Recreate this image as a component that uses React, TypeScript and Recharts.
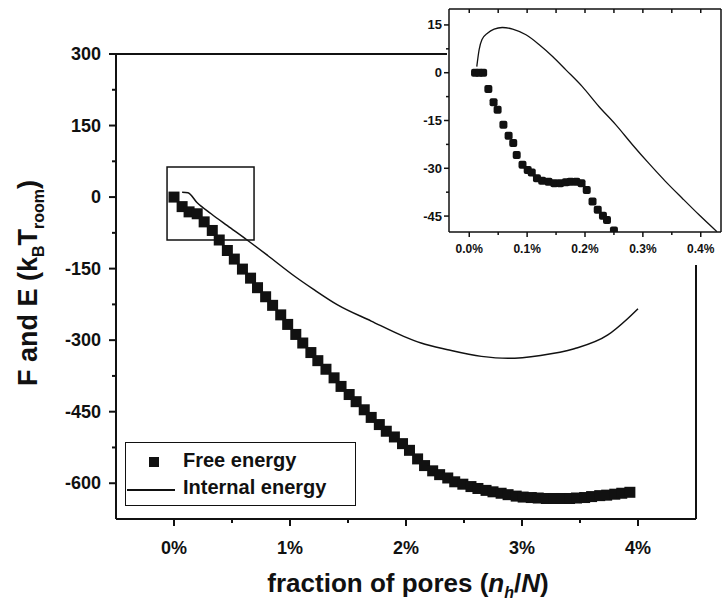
import React from 'react';
import { ComposedChart, Line, Scatter, XAxis, YAxis, ReferenceArea } from 'recharts';

// main panel: free energy (squares) and internal energy (line), x in % of pores
const freeX = [0, 0.07, 0.13, 0.2, 0.26, 0.33, 0.39, 0.46, 0.52, 0.59, 0.66, 0.72, 0.79, 0.85, 0.92, 0.98, 1.05, 1.11, 1.18, 1.24, 1.31, 1.38, 1.44, 1.51, 1.57, 1.64, 1.7, 1.77, 1.83, 1.9, 1.97, 2.03, 2.1, 2.16, 2.23, 2.29, 2.36, 2.42, 2.49, 2.56, 2.62, 2.69, 2.75, 2.82, 2.88, 2.95, 3.01, 3.08, 3.14, 3.21, 3.28, 3.34, 3.41, 3.47, 3.54, 3.6, 3.67, 3.73, 3.8, 3.86, 3.93];
const freeE = [0, -20, -31, -35, -52, -70, -90, -112, -130, -151, -170, -190, -209, -227, -247, -267, -288, -306, -326, -343, -361, -379, -397, -414, -429, -446, -462, -477, -491, -503, -517, -531, -549, -563, -574, -582, -589, -597, -602, -607, -611, -615, -618, -621, -624, -627, -629, -630, -631, -632, -632, -632, -632, -631, -630, -628, -626, -625, -623, -621, -619];
const internalX = [0.07, 0.12, 0.2, 0.32, 0.46, 0.63, 0.81, 1.04, 1.2, 1.41, 1.7, 1.98, 2.13, 2.36, 2.65, 2.88, 3.16, 3.45, 3.74, 3.91, 4.0];
const internalE = [10, 9, -12, -35, -60, -90, -123, -166, -193, -226, -260, -292, -306, -320, -334, -338, -332, -318, -289, -255, -234];

// inset: zoom on the start of both curves
const insetFreeX = [0.01, 0.017, 0.024, 0.033, 0.042, 0.049, 0.059, 0.068, 0.076, 0.082, 0.092, 0.101, 0.108, 0.117, 0.126, 0.137, 0.147, 0.157, 0.167, 0.175, 0.185, 0.194, 0.203, 0.213, 0.222, 0.231, 0.238, 0.25];
const insetFreeE = [0, 0, 0, -5.1, -9.3, -11.6, -16.3, -19.8, -22.1, -25.8, -28.9, -30.5, -31.3, -33.1, -33.9, -34.2, -34.7, -34.7, -34.4, -34.2, -34.2, -34.7, -36.8, -40.4, -43, -44.9, -46.2, -49.5];
const insetIntX = [0.013, 0.017, 0.022, 0.032, 0.043, 0.057, 0.075, 0.098, 0.121, 0.144, 0.167, 0.195, 0.224, 0.253, 0.282, 0.31, 0.339, 0.368, 0.397, 0.428];
const insetIntE = [1.9, 7.2, 10.4, 12.5, 13.7, 14.2, 13.7, 11.9, 8.8, 5.1, 0.9, -4.3, -10.6, -16.3, -22.6, -28.4, -34.1, -39.4, -44.6, -49.9];

const mainXTicks = [0, 0.5, 1, 1.5, 2, 2.5, 3, 3.5, 4];
const mainYTicks = [-600, -525, -450, -375, -300, -225, -150, -75, 0, 75, 150, 225, 300];
const insetXTicks = [0, 0.05, 0.1, 0.15, 0.2, 0.25, 0.3, 0.35, 0.4];
const insetYTicks = [-45, -37.5, -30, -22.5, -15, -7.5, 0, 7.5, 15];
const zoomBoxX = [-0.06, 0.69];
const zoomBoxY = [-90, 63];

const FONT = '"Liberation Sans", Arial, Helvetica, sans-serif';
const INK = '#111';

const near = (v: number, step: number) => Math.abs(v / step - Math.round(v / step)) < 1e-6;

const freeData = freeX.map((x, i) => ({ x, y: freeE[i] }));
const internalData = internalX.map((x, i) => ({ x, y: internalE[i] }));
const insetFreeData = insetFreeX.map((x, i) => ({ x, y: insetFreeE[i] }));
const insetIntData = insetIntX.map((x, i) => ({ x, y: insetIntE[i] }));

const mainBottomTick = (p: any) => {
  const v = p.payload.value;
  const major = near(v, 1);
  return (
    <g>
      <line x1={p.x} x2={p.x} y1={p.y} y2={p.y + (major ? 7 : 4)} stroke={INK} strokeWidth={2} />
      {major && (
        <text x={p.x} y={p.y + 35} textAnchor="middle" fontFamily={FONT} fontWeight="bold" fontSize={18} fill={INK}>
          {v}%
        </text>
      )}
    </g>
  );
};

const mainLeftTick = (p: any) => {
  const v = p.payload.value;
  const major = near(v, 150);
  return (
    <g>
      <line x1={p.x} x2={p.x - (major ? 7 : 4)} y1={p.y} y2={p.y} stroke={INK} strokeWidth={2} />
      {major && (
        <text x={p.x - 15} y={p.y + 6} textAnchor="end" fontFamily={FONT} fontWeight="bold" fontSize={18} fill={INK}>
          {v}
        </text>
      )}
    </g>
  );
};

const mainTopTick = (p: any) => (
  <line x1={p.x} x2={p.x} y1={p.y} y2={p.y + 6} stroke={INK} strokeWidth={2} />
);

const mainRightTick = (p: any) => (
  <line x1={p.x} x2={p.x - (near(p.payload.value, 150) ? 7 : 5)} y1={p.y} y2={p.y} stroke={INK} strokeWidth={2} />
);

const insetBottomTick = (p: any) => {
  const v = p.payload.value;
  const major = near(v, 0.1);
  return (
    <g>
      <line x1={p.x} x2={p.x} y1={p.y} y2={p.y + (major ? 5 : 3)} stroke={INK} strokeWidth={1.5} />
      {major && (
        <text x={p.x} y={p.y + 21} textAnchor="middle" fontFamily={FONT} fontWeight="bold" fontSize={12} fill={INK}>
          {v.toFixed(1)}%
        </text>
      )}
    </g>
  );
};

const insetLeftTick = (p: any) => {
  const v = p.payload.value;
  const major = near(v, 15);
  return (
    <g>
      <line x1={p.x} x2={p.x - (major ? 5 : 3)} y1={p.y} y2={p.y} stroke={INK} strokeWidth={1.5} />
      {major && (
        <text x={p.x - 7} y={p.y + 4.5} textAnchor="end" fontFamily={FONT} fontWeight="bold" fontSize={13} fill={INK}>
          {v}
        </text>
      )}
    </g>
  );
};

const insetTopTick = (p: any) => (
  <line x1={p.x} x2={p.x} y1={p.y} y2={p.y + 4} stroke={INK} strokeWidth={1.5} />
);

const bigSquare = (p: any) => <rect x={p.cx - 5.5} y={p.cy - 5.5} width={11} height={11} fill={INK} />;
const smallSquare = (p: any) => <rect x={p.cx - 4} y={p.cy - 4} width={8} height={8} rx={2} fill={INK} />;

const axisStyle = { stroke: INK, strokeWidth: 2 };
const insetAxisStyle = { stroke: INK, strokeWidth: 1.5 };

// axes get a 1px box (a 0px one is not drawn); ticks sit on the plot edge
const MainChart = () => (
  <ComposedChart width={724} height={605} margin={{ top: 53, right: 27, bottom: 85, left: 115 }}>
    <XAxis xAxisId="b" type="number" dataKey="x" domain={[-0.5, 4.5]} ticks={mainXTicks} interval={0}
      height={1} tickSize={0} tickMargin={0} axisLine={axisStyle} tickLine={false} tick={mainBottomTick} />
    <XAxis xAxisId="t" orientation="top" type="number" dataKey="x" domain={[-0.5, 4.5]} ticks={mainXTicks} interval={0}
      height={1} tickSize={0} tickMargin={0} axisLine={axisStyle} tickLine={false} tick={mainTopTick} />
    <YAxis yAxisId="l" type="number" dataKey="y" domain={[-675, 300]} ticks={mainYTicks} interval={0}
      width={1} tickSize={0} tickMargin={0} axisLine={axisStyle} tickLine={false} tick={mainLeftTick} />
    <YAxis yAxisId="r" orientation="right" type="number" dataKey="y" domain={[-675, 300]} ticks={mainYTicks} interval={0}
      width={1} tickSize={0} tickMargin={0} axisLine={axisStyle} tickLine={false} tick={mainRightTick} />
    <ReferenceArea xAxisId="b" yAxisId="l" x1={zoomBoxX[0]} x2={zoomBoxX[1]} y1={zoomBoxY[0]} y2={zoomBoxY[1]}
      fill="none" fillOpacity={0} stroke={INK} strokeWidth={1.5} ifOverflow="visible" />
    <Line xAxisId="b" yAxisId="l" data={internalData} dataKey="y" type="monotone" stroke={INK} strokeWidth={1.5}
      dot={false} isAnimationActive={false} />
    <Scatter xAxisId="b" yAxisId="l" data={freeData} dataKey="y" shape={bigSquare} isAnimationActive={false} />
  </ComposedChart>
);

const InsetChart = () => (
  <ComposedChart width={344} height={265} margin={{ top: 8, right: 2, bottom: 32, left: 68 }}>
    <XAxis xAxisId="b" type="number" dataKey="x" domain={[-0.035, 0.435]} ticks={insetXTicks} interval={0}
      height={1} tickSize={0} tickMargin={0} axisLine={insetAxisStyle} tickLine={false} tick={insetBottomTick} allowDataOverflow />
    <XAxis xAxisId="t" orientation="top" type="number" dataKey="x" domain={[-0.035, 0.435]} ticks={insetXTicks} interval={0}
      height={1} tickSize={0} tickMargin={0} axisLine={insetAxisStyle} tickLine={false} tick={insetTopTick} allowDataOverflow />
    <YAxis yAxisId="l" type="number" dataKey="y" domain={[-50, 20]} ticks={insetYTicks} interval={0}
      width={1} tickSize={0} tickMargin={0} axisLine={insetAxisStyle} tickLine={false} tick={insetLeftTick} allowDataOverflow />
    <YAxis yAxisId="r" orientation="right" type="number" dataKey="y" domain={[-50, 20]} ticks={insetYTicks} interval={0}
      width={1} tickSize={0} tickMargin={0} axisLine={insetAxisStyle} tickLine={false} tick={false} allowDataOverflow />
    <Line xAxisId="b" yAxisId="l" data={insetIntData} dataKey="y" type="monotone" stroke={INK} strokeWidth={1.3}
      dot={false} isAnimationActive={false} />
    <Scatter xAxisId="b" yAxisId="l" data={insetFreeData} dataKey="y" shape={smallSquare} isAnimationActive={false} />
  </ComposedChart>
);

const Titles = () => (
  <svg width={724} height={605} style={{ position: 'absolute', left: 0, top: 0, pointerEvents: 'none' }}>
    <text transform="translate(37,283) rotate(-90)" textAnchor="middle" fontFamily={FONT} fontWeight="bold" fontSize={27} fill={INK}>
      F and E (k<tspan dy={7} fontSize={16}>B</tspan><tspan dy={-7}>T</tspan><tspan dy={7} fontSize={16}>room</tspan><tspan dy={-7}>)</tspan>
    </text>
    <text x={408} y={592} textAnchor="middle" fontFamily={FONT} fontWeight="bold" fontSize={26} fill={INK}>
      fraction of pores (<tspan fontStyle="italic">n</tspan><tspan dy={6} fontSize={16} fontStyle="italic">h</tspan><tspan dy={-6}>/</tspan><tspan fontStyle="italic">N</tspan>)
    </text>
  </svg>
);

const LegendBox = () => (
  <div style={{ position: 'absolute', left: 125, top: 442, width: 231, height: 64, border: `1.5px solid ${INK}`,
    boxSizing: 'border-box', background: '#fff', fontFamily: FONT, fontSize: 20, fontWeight: 600, color: INK }}>
    <div style={{ position: 'absolute', left: 23, top: 14, width: 10, height: 10, background: INK }} />
    <span style={{ position: 'absolute', left: 57, top: 6 }}>Free energy</span>
    <div style={{ position: 'absolute', left: 1, top: 46, width: 48, height: 1.5, background: INK }} />
    <span style={{ position: 'absolute', left: 57, top: 33 }}>Internal energy</span>
  </div>
);

export default function App() {
  return (
    <div style={{ position: 'absolute', left: 0, top: 0, width: 724, height: 605, background: '#fff' }}>
      <MainChart />
      <LegendBox />
      <div style={{ position: 'absolute', left: 447, top: 0, width: 277, height: 265, background: '#fff' }} />
      <div style={{ position: 'absolute', left: 380, top: 0 }}>
        <InsetChart />
      </div>
      <Titles />
    </div>
  );
}
